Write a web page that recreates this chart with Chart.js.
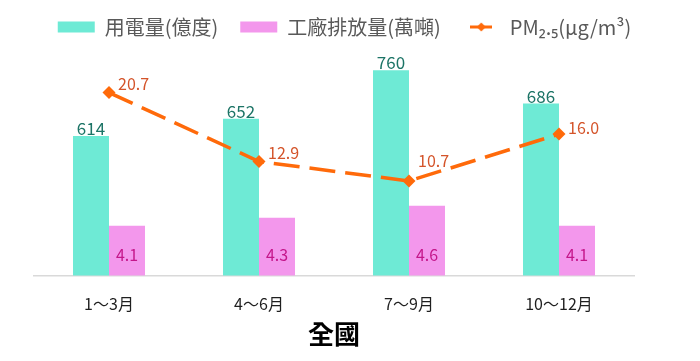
<!DOCTYPE html>
<html>
<head>
<meta charset="utf-8">
<script src="https://cdn.jsdelivr.net/npm/chart.js@4"></script>
<style>
  html, body { margin: 0; padding: 0; background: #ffffff; }
  #wrap { width: 700px; height: 361px; }
</style>
</head>
<body>
<div id="wrap"><canvas id="c" width="700" height="361"></canvas></div>
<script>
const categories = ['1～3月', '4～6月', '7～9月', '10～12月'];
const electricity = [614, 652, 760, 686];      // 用電量(億度)
const emissions = [4.1, 4.3, 4.6, 4.1];         // 工廠排放量(萬噸)
const pm25 = [20.7, 12.9, 10.7, 16.0];          // PM2.5(μg/m³)
const seriesNames = ['用電量(億度)', '工廠排放量(萬噸)', 'PM₂.₅(μg/m³)'];
const xTitle = '全國';

const FONT = '"Noto Sans CJK TC", "Noto Sans", sans-serif';
const TEAL = '#6eead5';
const PINK = '#f397ec';
const ORANGE = '#ff6a0a';

// legend icon for the line series: line with a diamond
function lineIcon() {
  const c = document.createElement('canvas');
  c.width = 22; c.height = 12;
  const g = c.getContext('2d');
  g.strokeStyle = ORANGE; g.lineWidth = 3;
  g.beginPath(); g.moveTo(0, 6); g.lineTo(22, 6); g.stroke();
  g.fillStyle = ORANGE;
  g.beginPath(); g.moveTo(11, 1.5); g.lineTo(15.5, 6); g.lineTo(11, 10.5); g.lineTo(6.5, 6); g.closePath(); g.fill();
  return c;
}
const lineIconCanvas = lineIcon();

const valueLabels = {
  id: 'valueLabels',
  afterDatasetsDraw(chart, args, opts) {
    const ctx = chart.ctx;
    const bottom = chart.chartArea.bottom;
    ctx.save();
    // teal bar labels: above bar
    chart.getDatasetMeta(0).data.forEach((el, i) => {
      ctx.font = '17px ' + FONT;
      ctx.fillStyle = '#1c7466';
      ctx.textAlign = 'center';
      ctx.textBaseline = 'bottom';
      ctx.fillText(String(electricity[i]), el.x, el.y + 1);
    });
    // pink bar labels: inside near bottom
    chart.getDatasetMeta(1).data.forEach((el, i) => {
      ctx.font = '16px ' + FONT;
      ctx.fillStyle = '#c4168a';
      ctx.textAlign = 'center';
      ctx.textBaseline = 'middle';
      ctx.fillText(emissions[i].toFixed(1), el.x, bottom - 21);
    });
    // line labels: right/above points
    chart.getDatasetMeta(2).data.forEach((el, i) => {
      const dy = (opts.lineLabelDy && opts.lineLabelDy[i]) || -8;
      ctx.font = '16px ' + FONT;
      ctx.fillStyle = '#d4542a';
      ctx.textAlign = 'left';
      ctx.textBaseline = 'middle';
      ctx.fillText(pm25[i].toFixed(1), el.x + 9, el.y + dy);
    });
    ctx.restore();
  }
};

new Chart(document.getElementById('c'), {
  data: {
    labels: categories,
    datasets: [
      {
        type: 'bar', label: seriesNames[0], data: electricity, yAxisID: 'y',
        backgroundColor: TEAL, borderWidth: 0, order: 1,
        categoryPercentage: 0.48, barPercentage: 1.0
      },
      {
        type: 'bar', label: seriesNames[1], data: emissions, yAxisID: 'y1',
        backgroundColor: PINK, borderWidth: 0, order: 1,
        categoryPercentage: 0.48, barPercentage: 1.0
      },
      {
        type: 'line', label: seriesNames[2], data: pm25, yAxisID: 'y2',
        borderColor: ORANGE, backgroundColor: ORANGE, borderWidth: 3.5,
        borderDash: [26, 10], pointStyle: 'rectRot', pointRadius: 6.5,
        pointBorderWidth: 0, pointBackgroundColor: ORANGE, fill: false,
        tension: 0, order: 0
      }
    ]
  },
  options: {
    responsive: false,
    animation: false,
    layout: { padding: { left: 34, right: 45, top: -5, bottom: 11 } },
    plugins: {
      tooltip: { enabled: false },
      valueLabels: { lineLabelDy: [-9, -8.5, -20, -6] },
      legend: {
        display: true,
        position: 'top',
        labels: {
          usePointStyle: true,
          pointStyleWidth: 37,
          boxWidth: 37,
          boxHeight: 11,
          padding: 22,
          color: '#595959',
          font: { size: 20, family: FONT },
          sort: (a, b) => a.datasetIndex - b.datasetIndex,
          generateLabels(chart) {
            const items = Chart.defaults.plugins.legend.labels.generateLabels(chart);
            items.forEach(it => {
              if (it.datasetIndex === 2) {
                it.pointStyle = lineIconCanvas;
                it.lineDash = [];
              } else {
                it.pointStyle = 'rect';
                it.lineWidth = 0;
              }
            });
            return items;
          }
        }
      }
    },
    scales: {
      x: {
        grid: { display: false, drawTicks: false },
        border: { display: true, color: '#d9d9d9', width: 1.5 },
        ticks: { color: '#1f1f1f', font: { size: 16, family: FONT }, padding: 19 },
        title: {
          display: true, text: xTitle, color: '#000000',
          font: { size: 26, weight: 'bold', family: FONT },
          padding: { top: -14, bottom: 0 }
        }
      },
      y: { display: false, min: 303, max: 812 },
      y1: { display: false, min: 2.86, max: 8.55 },
      y2: {
        display: true, position: 'right', min: 0, max: 25.85,
        ticks: { display: false }, grid: { display: false }, border: { display: false },
        afterFit(scale) { scale.width = 21; }
      }
    }
  },
  plugins: [valueLabels]
});
</script>
</body>
</html>
